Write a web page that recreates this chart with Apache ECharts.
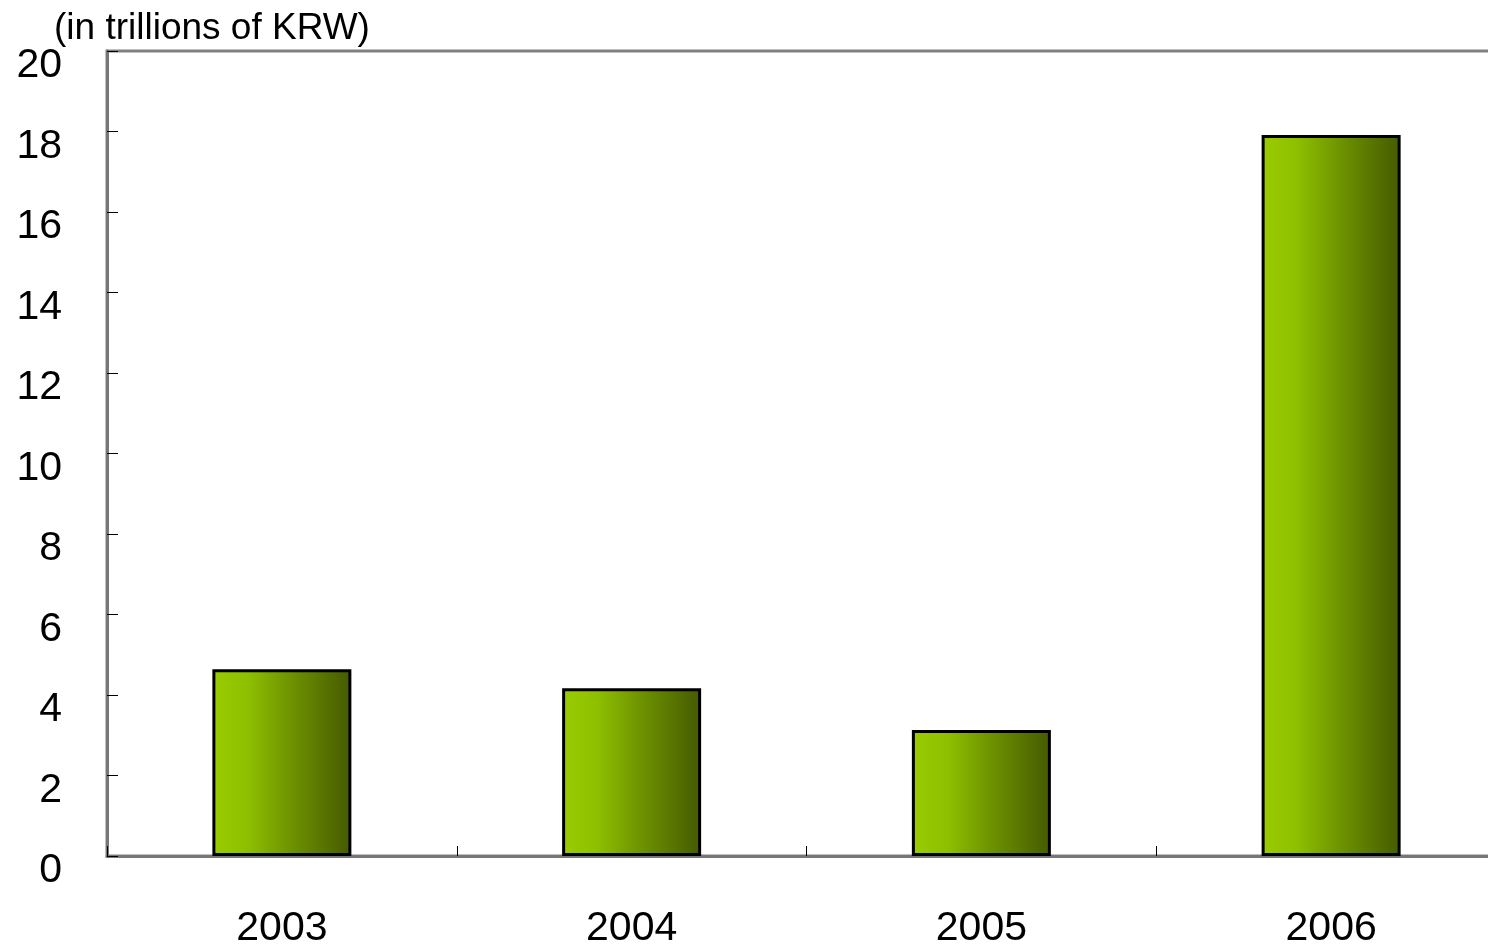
<!DOCTYPE html>
<html><head><meta charset="utf-8">
<script src="https://cdn.jsdelivr.net/npm/echarts@6/dist/echarts.min.js"></script>
<style>html,body{margin:0;padding:0;background:#fff;overflow:hidden;width:1488px;height:949px}#c{width:1507px;height:949px}</style>
</head><body><div id="c"></div>
<script>
const categories = ['2003', '2004', '2005', '2006'];
const values = [4.64, 4.17, 3.13, 17.91];
const unitLabel = '(in trillions of KRW)';

const chart = echarts.init(document.getElementById('c'));
chart.setOption({
  animation: false,
  backgroundColor: '#fff',
  textStyle: { fontFamily: 'Liberation Sans, Arial, sans-serif' },
  title: {
    text: unitLabel, left: 49, top: 5,
    textStyle: { fontFamily: 'Liberation Sans', fontSize: 37, fontWeight: 'normal', color: '#000' }
  },
  grid: { left: 107, top: 51, right: 1, bottom: 90, show: true, borderColor: '#808080', borderWidth: 3 },
  xAxis: {
    type: 'category', data: categories,
    axisLine: { lineStyle: { color: '#777', width: 3 } },
    axisTick: { show: true, inside: true, length: 10, lineStyle: { color: '#000', width: 1 } },
    axisLabel: { margin: 52, fontSize: 41, color: '#000', fontFamily: 'Liberation Sans' }
  },
  yAxis: {
    type: 'value', min: 0, max: 20, interval: 2,
    splitLine: { show: false },
    axisLine: { show: true, lineStyle: { color: '#777', width: 3 } },
    axisTick: { show: true, inside: true, length: 11, lineStyle: { color: '#000', width: 1 } },
    axisLabel: { margin: 45, fontSize: 41, color: '#000', fontFamily: 'Liberation Sans', verticalAlign: 'top', lineHeight: 30 }
  },
  series: [{
    type: 'bar', data: values, barWidth: 139,
    itemStyle: {
      borderColor: '#000', borderWidth: 3,
      color: new echarts.graphic.LinearGradient(0, 0, 1, 0, [
        { offset: 0, color: '#9acc00' },
        { offset: 0.25, color: '#8fc000' },
        { offset: 0.6, color: '#6a8e00' },
        { offset: 1, color: '#455a00' }
      ])
    }
  }]
});
</script></body></html>
